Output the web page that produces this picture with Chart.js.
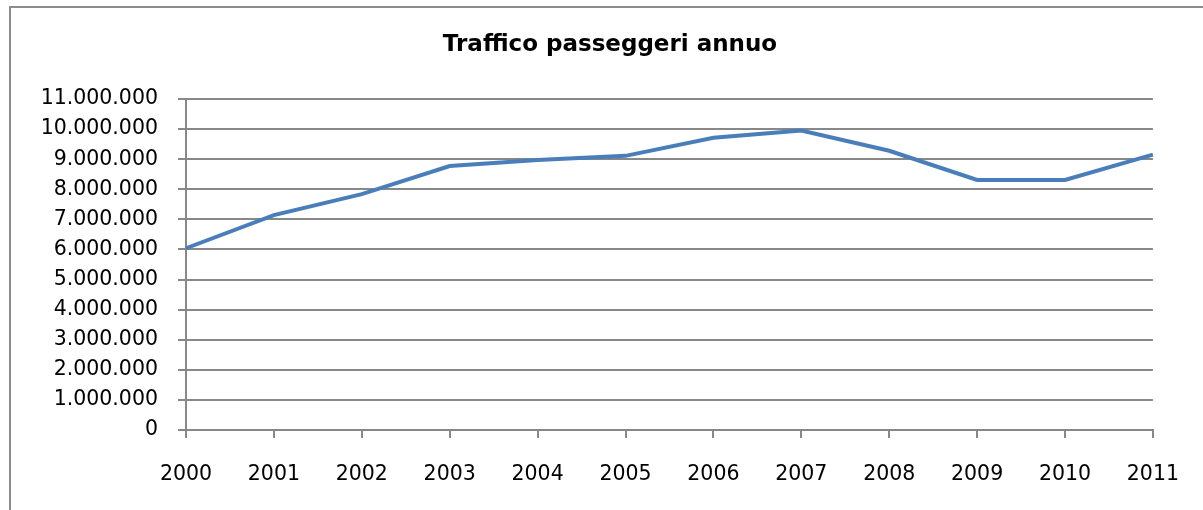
<!DOCTYPE html>
<html>
<head>
<meta charset="utf-8">
<script src="https://cdn.jsdelivr.net/npm/chart.js@4.4.1/dist/chart.umd.min.js"></script>
<style>
  html, body { margin: 0; padding: 0; background: #ffffff; }
  #wrap { position: relative; width: 1203px; height: 510px; }
  canvas { display: block; }
</style>
</head>
<body>
<div id="wrap"><canvas id="chart" width="1203" height="510"></canvas></div>
<script>
// Annual passenger traffic, 2000–2011
const years = ['2000', '2001', '2002', '2003', '2004', '2005', '2006', '2007', '2008', '2009', '2010', '2011'];
const passengers = [6040000, 7140000, 7840000, 8770000, 8970000, 9110000, 9710000, 9950000, 9280000, 8310000, 8310000, 9150000];
const chartTitle = 'Traffico passeggeri annuo';
const yMax = 11000000;
const yStep = 1000000;

const GRID = '#888888';
const FONT = 'DejaVu Sans';

// Thousands separated with dots: 1000000 -> "1.000.000"
function dotted(v) {
  return String(Math.round(v)).replace(/\B(?=(\d{3})+(?!\d))/g, '.');
}

// Thin frame along the top and left edges of the chart box
const framePlugin = {
  id: 'frame',
  beforeDraw(chart) {
    const ctx = chart.ctx;
    ctx.save();
    ctx.strokeStyle = '#8c8c8c';
    ctx.lineWidth = 2;
    ctx.beginPath();
    ctx.moveTo(10, 510);
    ctx.lineTo(10, 7);
    ctx.lineTo(1203, 7);
    ctx.stroke();
    ctx.restore();
  }
};

// Bold heading centred over the plot, slightly right of the canvas middle
const headingPlugin = {
  id: 'heading',
  afterDraw(chart) {
    const ctx = chart.ctx;
    ctx.save();
    ctx.fillStyle = '#000000';
    ctx.font = 'bold 23px "' + FONT + '"';
    ctx.textAlign = 'center';
    ctx.textBaseline = 'alphabetic';
    ctx.fillText(chartTitle, 610, 51);
    ctx.restore();
  }
};

new Chart(document.getElementById('chart'), {
  type: 'line',
  data: {
    labels: years,
    datasets: [{
      label: chartTitle,
      data: passengers,
      borderColor: '#4a7ebb',
      backgroundColor: '#4a7ebb',
      borderWidth: 4,
      pointRadius: 0,
      pointHoverRadius: 0,
      tension: 0,
      fill: false
    }]
  },
  options: {
    responsive: false,
    animation: false,
    devicePixelRatio: 1,
    layout: { padding: { left: 0, right: 49, top: 99, bottom: 0 } },
    plugins: {
      legend: { display: false },
      tooltip: { enabled: false },
      title: { display: false }
    },
    scales: {
      x: {
        type: 'category',
        offset: false,
        afterFit(scale) { scale.height = 80; },
        grid: {
          display: true,
          drawOnChartArea: false,
          drawTicks: true,
          tickLength: 8,
          color: GRID,
          lineWidth: 2
        },
        border: { display: true, color: GRID, width: 2 },
        ticks: {
          color: '#000000',
          font: { family: FONT, size: 20.5 },
          padding: 24,
          maxRotation: 0,
          autoSkip: false
        }
      },
      y: {
        min: 0,
        max: yMax,
        afterFit(scale) { scale.width = 186; },
        grid: {
          display: true,
          drawOnChartArea: true,
          drawTicks: true,
          tickLength: 8,
          color: GRID,
          lineWidth: 2
        },
        border: { display: true, color: GRID, width: 2 },
        ticks: {
          stepSize: yStep,
          color: '#000000',
          font: { family: FONT, size: 20.5 },
          padding: 20,
          callback: (v) => dotted(v)
        }
      }
    }
  },
  plugins: [framePlugin, headingPlugin]
});
</script>
</body>
</html>
